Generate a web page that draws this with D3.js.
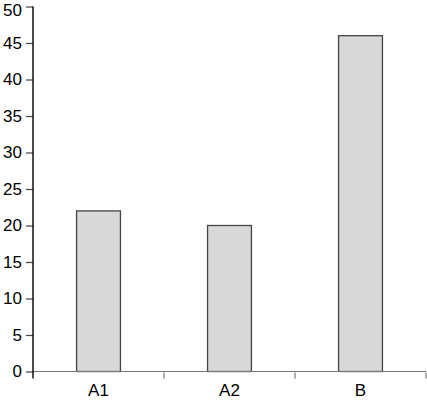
<!DOCTYPE html>
<html>
<head>
<meta charset="utf-8">
<script src="https://cdn.jsdelivr.net/npm/d3@7"></script>
<style>
  body { margin: 0; background: #fff; }
  svg { display: block; }
  .axis text { font: 17px "Liberation Sans", Arial, sans-serif; fill: #000; }
</style>
</head>
<body>
<div id="chart"></div>
<script>
var categories = ["A1", "A2", "B"];
var values = [22, 20, 46];
var yTicks = [0, 5, 10, 15, 20, 25, 30, 35, 40, 45, 50];

var W = 427, H = 400;
var margin = { top: 6.5, right: 1, bottom: 28.5, left: 33 };
var width = W - margin.left - margin.right,
    height = H - margin.top - margin.bottom;

var svg = d3.select("#chart").append("svg")
    .attr("width", W)
    .attr("height", H);

var g = svg.append("g")
    .attr("transform", "translate(" + margin.left + "," + margin.top + ")");

var x = d3.scaleBand().domain(categories).range([0, width]).padding(0);
var y = d3.scaleLinear().domain([0, 50]).range([height, 0]);

// bars
var barW = x.bandwidth() * 0.335;
g.append("g").selectAll("rect")
    .data(categories)
    .enter().append("rect")
    .attr("x", function (d) { return x(d) + (x.bandwidth() - barW) / 2; })
    .attr("y", function (d, i) { return y(values[i]); })
    .attr("width", barW)
    .attr("height", function (d, i) { return height - y(values[i]); })
    .style("fill", "#d9d9d9")
    .style("stroke", "#444")
    .style("stroke-width", 1.3);

// x axis: baseline + boundary ticks
var xAxis = g.append("g")
    .attr("class", "axis")
    .attr("transform", "translate(0," + height + ")");
xAxis.call(d3.axisBottom(x).tickSize(0).tickPadding(12.5))
    .select(".domain").remove();
xAxis.append("line")
    .attr("x1", 0).attr("x2", width)
    .style("stroke", "#777").style("stroke-width", 1.2);
var bounds = categories.map(function (d) { return x(d); }).concat([width]);
xAxis.selectAll(".btick")
    .data(bounds.slice(1))
    .enter().append("line")
    .attr("class", "btick")
    .attr("x1", function (d) { return d; })
    .attr("x2", function (d) { return d; })
    .attr("y1", 1).attr("y2", 7)
    .style("stroke", "#777").style("stroke-width", 1.2);

// y axis
var yAxis = g.append("g").attr("class", "axis");
yAxis.call(d3.axisLeft(y).tickValues(yTicks).tickSize(7).tickPadding(4))
    .select(".domain").remove();
yAxis.selectAll(".tick line").style("stroke", "#444").style("stroke-width", 1.2);
// keep the top label inside the page
yAxis.selectAll(".tick text")
    .filter(function (d) { return d === 50; })
    .attr("dy", "0.53em");
yAxis.append("line")
    .attr("x1", 0).attr("x2", 0)
    .attr("y1", 0).attr("y2", height + 7)
    .style("stroke", "#000").style("stroke-width", 1.4);
</script>
</body>
</html>
